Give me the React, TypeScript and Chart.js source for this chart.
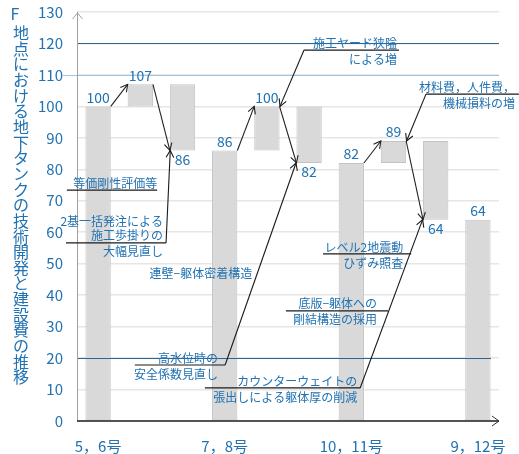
import { useEffect, useRef } from "react";
import { Chart, registerables } from "chart.js";

Chart.register(...registerables);

// ---- data ----
const categories = ["5，6号", "", "", "7，8号", "", "", "10，11号", "", "", "9，12号"];
const barLows = [0, 100, 86, 0, 86, 82, 0, 82, 64, 0];
const barHighs = [100, 107, 107, 86, 100, 100, 82, 89, 89, 64];
const valueLabels = [100, 107, 86, 86, 100, 82, 82, 89, 64, 64];
const labelSides = ["top", "top", "bottom", "top", "top", "bottom", "top", "top", "bottom", "top"];
// transitions between steps: [from bar, to bar]
const steps = [[0, 1], [1, 2], [3, 4], [4, 5], [6, 7], [7, 8]];
const refValues = [120, 110, 20];
const yMin = 0;
const yMax = 130;
const yStep = 10;
const yTitleHead = "F";
const yTitleBody = "地点における地下タンクの技術開発と建設費の推移";

// callouts: text above/below an underline (data coords), optional leader arrow
type Callout = {
  above: string[];
  below: string[];
  lineVal: number;
  lineFrom: number;
  lineTo: number;
  textRight: number;
  leaderFrom?: "left" | "right";
  leaderTo?: [number, number];
};

const callouts: Callout[] = [
  { above: ["等価剛性評価等"], below: [], lineVal: 73.4, lineFrom: -0.74, lineTo: 1.4, textRight: 1.4 },
  {
    above: ["2基一括発注による", "施工歩掛りの"], below: ["大幅見直し"],
    lineVal: 56.6, lineFrom: -0.76, lineTo: 1.61, textRight: 1.54,
    leaderFrom: "right", leaderTo: [1.71, 86],
  },
  {
    above: ["高水位時の"], below: ["安全係数見直し"],
    lineVal: 17.8, lineFrom: 0.87, lineTo: 3.01, textRight: 2.84,
    leaderFrom: "right", leaderTo: [4.69, 82],
  },
  {
    above: ["施工ヤード狭隘"], below: ["による増"],
    lineVal: 117.9, lineFrom: 4.88, lineTo: 7.13, textRight: 7.08,
    leaderFrom: "left", leaderTo: [4.31, 100],
  },
  {
    above: ["材料費，人件費，"], below: ["機械損料の増"],
    lineVal: 103.9, lineFrom: 7.77, lineTo: 9.97, textRight: 9.88,
    leaderFrom: "left", leaderTo: [7.31, 89],
  },
  { above: ["レベル2地震動"], below: ["ひずみ照査"], lineVal: 53.1, lineFrom: 5.33, lineTo: 7.42, textRight: 7.23 },
  { above: ["底版−躯体への"], below: ["剛結構造の採用"], lineVal: 35.0, lineFrom: 4.45, lineTo: 6.87, textRight: 6.61 },
  {
    above: ["カウンターウェイトの"], below: ["張出しによる躯体厚の削減"],
    lineVal: 10.5, lineFrom: 2.53, lineTo: 6.21, textRight: 6.14,
    leaderFrom: "right", leaderTo: [7.69, 64],
  },
];
const freeTexts = [{ text: "連壁−躯体密着構造", idx: 3.65, val: 47.0 }];

// ---- styles ----
const FONT = '"Noto Sans CJK JP", "Noto Sans", sans-serif';
const BLUE = "#2072b2";
const DARK_LINE = "#2a6797";
const LIGHT_LINE = "#9fc5e2";
const refColors = [DARK_LINE, LIGHT_LINE, DARK_LINE];
const refLeftExt = [0, 14, 0];
const refRightTrim = [0, 0, 8];
const HALF_BAR = 0.3;

function arrow(ctx: CanvasRenderingContext2D, x1: number, y1: number, x2: number, y2: number) {
  ctx.beginPath();
  ctx.moveTo(x1, y1);
  ctx.lineTo(x2, y2);
  ctx.stroke();
  const a = Math.atan2(y2 - y1, x2 - x1);
  const len = 8;
  const spread = 0.5;
  ctx.beginPath();
  ctx.moveTo(x2 - len * Math.cos(a - spread), y2 - len * Math.sin(a - spread));
  ctx.lineTo(x2, y2);
  ctx.lineTo(x2 - len * Math.cos(a + spread), y2 - len * Math.sin(a + spread));
  ctx.stroke();
}

const overlayPlugin = {
  id: "overlay",
  afterDatasetsDraw(chart: any) {
    const { ctx, chartArea, scales } = chart;
    const xs = scales.x;
    const ys = scales.y;
    const px = (i: number) => xs.getPixelForValue(0) + (xs.getPixelForValue(1) - xs.getPixelForValue(0)) * i;
    const py = (v: number) => ys.getPixelForValue(v);
    ctx.save();

    // reference lines
    refValues.forEach((v, k) => {
      ctx.strokeStyle = refColors[k];
      ctx.lineWidth = 1.2;
      ctx.beginPath();
      ctx.moveTo(chartArea.left - refLeftExt[k], Math.round(py(v)) + 0.5);
      ctx.lineTo(chartArea.right - refRightTrim[k], Math.round(py(v)) + 0.5);
      ctx.stroke();
    });

    // axes
    ctx.strokeStyle = "#a0a0a0";
    ctx.lineWidth = 1;
    const ax = Math.round(chartArea.left) + 0.5;
    ctx.beginPath();
    ctx.moveTo(ax, chartArea.bottom);
    ctx.lineTo(ax, chartArea.top);
    ctx.stroke();
    ctx.beginPath();
    ctx.moveTo(ax - 5, chartArea.top + 7);
    ctx.lineTo(ax, chartArea.top + 1);
    ctx.lineTo(ax + 5, chartArea.top + 7);
    ctx.stroke();
    ctx.strokeStyle = "#1a1a1a";
    ctx.lineWidth = 1.5;
    const by = Math.round(chartArea.bottom);
    ctx.beginPath();
    ctx.moveTo(chartArea.left, by);
    ctx.lineTo(chartArea.right, by);
    ctx.stroke();
    ctx.lineWidth = 1;
    ctx.strokeStyle = "#333";
    ctx.beginPath();
    ctx.moveTo(chartArea.right - 7, by - 5);
    ctx.lineTo(chartArea.right, by);
    ctx.lineTo(chartArea.right - 7, by + 5);
    ctx.stroke();

    // step arrows between bars
    ctx.strokeStyle = "#222";
    ctx.lineWidth = 1.1;
    steps.forEach(([a, b]) => {
      arrow(ctx, px(a + HALF_BAR), py(valueLabels[a]), px(b - HALF_BAR), py(valueLabels[b]));
    });

    // value labels
    ctx.fillStyle = BLUE;
    ctx.font = `14px ${FONT}`;
    ctx.textAlign = "center";
    ctx.textBaseline = "middle";
    valueLabels.forEach((v, i) => {
      const y = labelSides[i] === "top" ? py(barHighs[i]) - 9 : py(barLows[i]) + 9;
      ctx.fillText(String(v), px(i), y);
    });

    // callouts
    ctx.font = `12px ${FONT}`;
    ctx.textAlign = "right";
    callouts.forEach((c) => {
      const ly = py(c.lineVal);
      const x1 = px(c.lineFrom);
      const x2 = px(c.lineTo);
      ctx.fillStyle = BLUE;
      const tr = px(c.textRight);
      const n = c.above.length;
      c.above.forEach((t, k) => {
        ctx.fillText(t, tr, ly - 7 - (n - 1 - k) * 14);
      });
      c.below.forEach((t, k) => {
        ctx.fillText(t, tr, ly + 9 + k * 14);
      });
      ctx.strokeStyle = "#1a1a1a";
      ctx.lineWidth = 1.2;
      ctx.beginPath();
      ctx.moveTo(x1, ly);
      ctx.lineTo(x2, ly);
      ctx.stroke();
      if (c.leaderTo) {
        const sx = c.leaderFrom === "left" ? x1 : x2;
        ctx.lineWidth = 1.1;
        arrow(ctx, sx, ly, px(c.leaderTo[0]), py(c.leaderTo[1]));
      }
    });
    ctx.fillStyle = BLUE;
    freeTexts.forEach((t) => {
      ctx.fillText(t.text, px(t.idx), py(t.val));
    });

    // vertical axis title
    ctx.textAlign = "center";
    ctx.font = `16px ${FONT}`;
    ctx.fillText(yTitleHead, 15, 14);
    Array.from(yTitleBody).forEach((ch, i) => {
      ctx.fillText(ch, 21, 33 + i * 15.65);
    });
    ctx.restore();
  },
};

export default function App() {
  const ref = useRef<HTMLCanvasElement | null>(null);

  useEffect(() => {
    if (!ref.current) return;
    const chart = new Chart(ref.current, {
      type: "bar",
      data: {
        labels: categories,
        datasets: [
          {
            data: barLows.map((lo, i) => [lo, barHighs[i]]) as any,
            backgroundColor: "#d9d9d9",
            borderColor: "#c3c3c3",
            borderWidth: 1,
            borderSkipped: false,
            barPercentage: HALF_BAR * 2,
            categoryPercentage: 1,
          },
        ],
      },
      options: {
        responsive: false,
        animation: false,
        devicePixelRatio: 1,
        layout: { padding: { left: 0, right: 20, top: 12, bottom: 0 } },
        plugins: { legend: { display: false }, tooltip: { enabled: false } },
        scales: {
          x: {
            offset: true,
            grid: { display: false, drawTicks: false },
            border: { display: false },
            ticks: {
              color: BLUE,
              font: { family: FONT, size: 15 },
              padding: 16,
              autoSkip: false,
              maxRotation: 0,
            },
            afterFit: (s: any) => {
              s.height = 33;
              s.paddingLeft = 0;
              s.paddingRight = 0;
            },
          },
          y: {
            min: yMin,
            max: yMax,
            grid: {
              color: (c: any) => (c.tick && c.tick.value === 0 ? "rgba(0,0,0,0)" : "#e6e6e6"),
              lineWidth: 1.5,
              drawTicks: false,
            },
            border: { display: false },
            ticks: {
              stepSize: yStep,
              color: BLUE,
              font: { family: FONT, size: 15 },
              padding: 14,
            },
            afterFit: (s: any) => {
              s.width = 77;
              s.paddingTop = 0;
              s.paddingBottom = 0;
            },
          },
        },
      },
      plugins: [overlayPlugin],
    });
    return () => chart.destroy();
  }, []);

  return (
    <div style={{ position: "absolute", left: 0, top: 0, width: 519, height: 454, background: "#fff" }}>
      <canvas ref={ref} width={519} height={454} />
    </div>
  );
}
